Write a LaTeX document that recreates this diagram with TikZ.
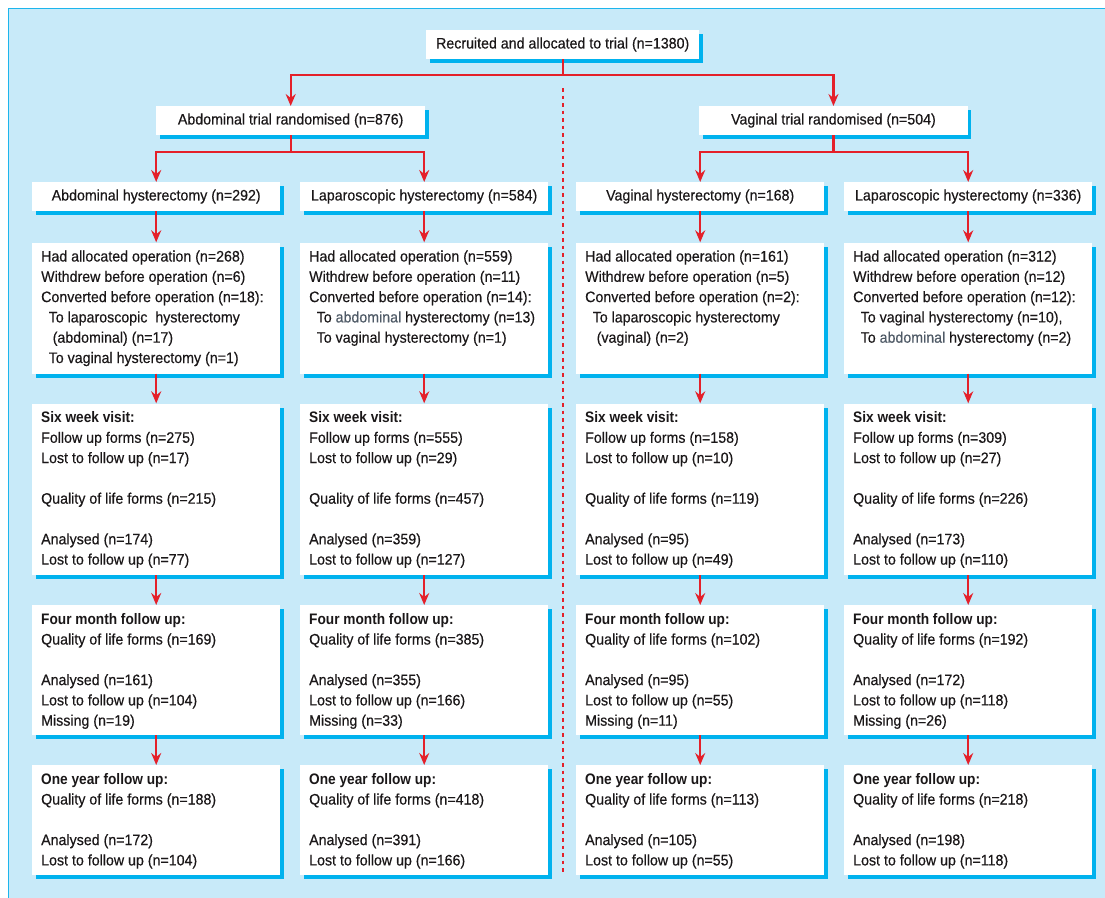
\documentclass[tikz,border=0pt]{standalone}
\usepackage{fontspec}
\setmainfont{Liberation Sans}[FakeStretch=0.935, UprightFeatures={FakeBold=0.35}, BoldFeatures={FakeStretch=0.9}]
\usetikzlibrary{arrows.meta,shadows}
\definecolor{bgblue}{HTML}{C8EAF9}
\definecolor{frameblue}{HTML}{1DB5EC}
\definecolor{shblue}{HTML}{00B2EE}
\definecolor{redl}{HTML}{E4202A}
\definecolor{txt}{HTML}{1A1718}
\definecolor{lighttxt}{HTML}{4F5A66}
\newcommand{\tbox}[3]{\parbox[c][#2pt][t]{#1pt}{\fontsize{15.2}{20.3}\selectfont\raggedright\leftskip=9pt\rule{0pt}{19pt}#3}}
\newcommand{\ind}{\hspace*{7.5pt}}
\newcommand{\indd}{\hspace*{11.5pt}}
\newcommand{\lt}[1]{\textcolor{lighttxt}{#1}}
\tikzset{
  box/.style={fill=white, inner sep=0pt, text=txt,
    drop shadow={shadow xshift=3.5pt, shadow yshift=-4pt, fill=shblue, opacity=1}},
  hbox/.style={box, anchor=north west, minimum height=28.7pt, font=\fontsize{15.2}{18}\selectfont},
  mbox/.style={box, anchor=north west},
  arr/.style={draw=redl, line width=2.2pt, -{Stealth[length=12pt,width=10pt,inset=4pt]}},
}
\begin{document}
\begin{tikzpicture}[x=1pt,y=-1pt]
\useasboundingbox (0,0) rectangle (1105,897);
\clip (0,0) rectangle (1105,897);
\draw[frameblue, line width=1.8pt, fill=bgblue] (8.5,8.5) rectangle (1120,920);

% level 1 and 2
\node[hbox, minimum width=273pt] (top) at (426,30) {Recruited and allocated to trial (n=1380)};
\node[hbox, minimum width=269pt] (abt) at (156,106) {Abdominal trial randomised (n=876)};
\node[hbox, minimum width=268.5pt] (vat) at (699,106) {Vaginal trial randomised (n=504)};

% level 3
\node[hbox, minimum width=248pt] (c1) at (32,182) {Abdominal hysterectomy (n=292)};
\node[hbox, minimum width=248pt] (c2) at (300,182) {Laparoscopic hysterectomy (n=584)};
\node[hbox, minimum width=248pt] (c3) at (576,182) {Vaginal hysterectomy (n=168)};
\node[hbox, minimum width=248pt] (c4) at (844,182) {Laparoscopic hysterectomy (n=336)};

% level 4
\node[mbox] (d1) at (32,242.3) {\tbox{248}{131}{Had allocated operation (n=268)\\
Withdrew before operation (n=6)\\
Converted before operation (n=18):\\
\ind To laparoscopic~ hysterectomy\\
\indd(abdominal) (n=17)\\
\ind To vaginal hysterectomy (n=1)}};
\node[mbox] (d2) at (300,242.3) {\tbox{248}{131}{Had allocated operation (n=559)\\
Withdrew before operation (n=11)\\
Converted before operation (n=14):\\
\ind To \lt{abdominal} hysterectomy (n=13)\\
\ind To vaginal hysterectomy (n=1)}};
\node[mbox] (d3) at (576,242.3) {\tbox{248}{131}{Had allocated operation (n=161)\\
Withdrew before operation (n=5)\\
Converted before operation (n=2):\\
\ind To laparoscopic hysterectomy\\
\indd(vaginal) (n=2)}};
\node[mbox] (d4) at (844,242.3) {\tbox{248}{131}{Had allocated operation (n=312)\\
Withdrew before operation (n=12)\\
Converted before operation (n=12):\\
\ind To vaginal hysterectomy (n=10),\\
\ind To \lt{abdominal} hysterectomy (n=2)}};

% level 5
\node[mbox] (e1) at (32,403.3) {\tbox{248}{171.7}{{\bfseries Six week visit:}\\
Follow up forms (n=275)\\
Lost to follow up (n=17)\\ \mbox{}\\
Quality of life forms (n=215)\\ \mbox{}\\
Analysed (n=174)\\
Lost to follow up (n=77)}};
\node[mbox] (e2) at (300,403.3) {\tbox{248}{171.7}{{\bfseries Six week visit:}\\
Follow up forms (n=555)\\
Lost to follow up (n=29)\\ \mbox{}\\
Quality of life forms (n=457)\\ \mbox{}\\
Analysed (n=359)\\
Lost to follow up (n=127)}};
\node[mbox] (e3) at (576,403.3) {\tbox{248}{171.7}{{\bfseries Six week visit:}\\
Follow up forms (n=158)\\
Lost to follow up (n=10)\\ \mbox{}\\
Quality of life forms (n=119)\\ \mbox{}\\
Analysed (n=95)\\
Lost to follow up (n=49)}};
\node[mbox] (e4) at (844,403.3) {\tbox{248}{171.7}{{\bfseries Six week visit:}\\
Follow up forms (n=309)\\
Lost to follow up (n=27)\\ \mbox{}\\
Quality of life forms (n=226)\\ \mbox{}\\
Analysed (n=173)\\
Lost to follow up (n=110)}};

% level 6
\node[mbox] (f1) at (32,605) {\tbox{248}{130}{{\bfseries Four month follow up:}\\
Quality of life forms (n=169)\\ \mbox{}\\
Analysed (n=161)\\
Lost to follow up (n=104)\\
Missing (n=19)}};
\node[mbox] (f2) at (300,605) {\tbox{248}{130}{{\bfseries Four month follow up:}\\
Quality of life forms (n=385)\\ \mbox{}\\
Analysed (n=355)\\
Lost to follow up (n=166)\\
Missing (n=33)}};
\node[mbox] (f3) at (576,605) {\tbox{248}{130}{{\bfseries Four month follow up:}\\
Quality of life forms (n=102)\\ \mbox{}\\
Analysed (n=95)\\
Lost to follow up (n=55)\\
Missing (n=11)}};
\node[mbox] (f4) at (844,605) {\tbox{248}{130}{{\bfseries Four month follow up:}\\
Quality of life forms (n=192)\\ \mbox{}\\
Analysed (n=172)\\
Lost to follow up (n=118)\\
Missing (n=26)}};

% level 7
\node[mbox] (g1) at (32,765) {\tbox{248}{110}{{\bfseries One year follow up:}\\
Quality of life forms (n=188)\\ \mbox{}\\
Analysed (n=172)\\
Lost to follow up (n=104)}};
\node[mbox] (g2) at (300,765) {\tbox{248}{110}{{\bfseries One year follow up:}\\
Quality of life forms (n=418)\\ \mbox{}\\
Analysed (n=391)\\
Lost to follow up (n=166)}};
\node[mbox] (g3) at (576,765) {\tbox{248}{110}{{\bfseries One year follow up:}\\
Quality of life forms (n=113)\\ \mbox{}\\
Analysed (n=105)\\
Lost to follow up (n=55)}};
\node[mbox] (g4) at (844,765) {\tbox{248}{110}{{\bfseries One year follow up:}\\
Quality of life forms (n=218)\\ \mbox{}\\
Analysed (n=198)\\
Lost to follow up (n=118)}};

% dashed divider
\coordinate (dtop) at (top.south |- 0,88);
\coordinate (dbot) at (top.south |- 0,875);
\draw[redl, line width=2pt, dash pattern=on 3.5pt off 4pt] (dtop) -- (dbot);

% connectors
\draw[arr] (top.south) -- ++(0,16) -| (abt.north);
\draw[arr] (top.south) -- ++(0,16) -| (vat.north);
\draw[arr] (abt.south) -- ++(0,17) -| (c1.north);
\draw[arr] (abt.south) -- ++(0,17) -| (c2.north);
\draw[arr] (vat.south) -- ++(0,17) -| (c3.north);
\draw[arr] (vat.south) -- ++(0,17) -| (c4.north);
\foreach \i in {1,2,3,4}{
  \draw[arr] (c\i.south) -- (d\i.north);
  \draw[arr] (d\i.south) -- (e\i.north);
  \draw[arr] (e\i.south) -- (f\i.north);
  \draw[arr] (f\i.south) -- (g\i.north);
}
\end{tikzpicture}
\end{document}
